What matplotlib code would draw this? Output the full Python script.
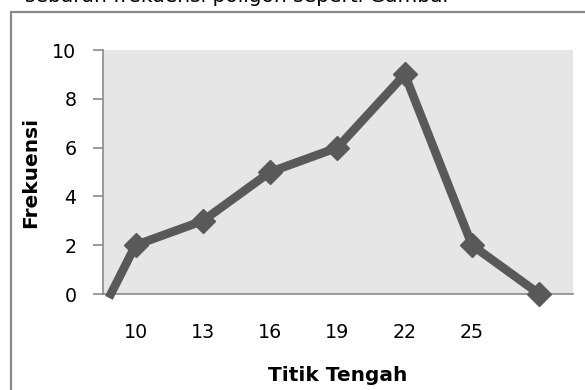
import matplotlib
matplotlib.use("Agg")
import matplotlib.pyplot as plt
from matplotlib.patches import Rectangle

# data
midpoints = [8.9, 10, 13, 16, 19, 22, 25, 28]
frequencies = [0, 2, 3, 5, 6, 9, 2, 0]
x_tick_labels = [10, 13, 16, 19, 22, 25]
y_ticks = [0, 2, 4, 6, 8, 10]

plt.rcParams['font.family'] = ['DejaVu Sans']

W, H = 585, 390
fig = plt.figure(figsize=(W / 100, H / 100), dpi=100)

# clipped caption text at the very top
fig.text(25 / W, 1 - 2.5 / H, "sebaran frekuensi poligon seperti Gambar",
         fontsize=14.5, color='black', ha='left', va='baseline')

# outer chart frame
fig.patches.append(Rectangle((11 / W, -0.05), 1.2, (1 - 12 / H) + 0.05,
                             transform=fig.transFigure, fill=False,
                             edgecolor='#8a8a8a', linewidth=1.6))

left, right, top, bottom = 103, 573, 50, 294
ax = fig.add_axes([left / W, 1 - bottom / H, (right - left) / W, (bottom - top) / H])
ax.set_facecolor('#e6e6e6')

ax.plot(midpoints, frequencies, color='#595959', linewidth=6.2,
        marker='D', markersize=12.5, markevery=list(range(1, len(midpoints))),
        solid_joinstyle='miter', clip_on=False, zorder=3)

ax.set_xlim(8.55, 29.5)
ax.set_ylim(0, 10)
ax.set_xticks(x_tick_labels)
ax.set_xticklabels([str(v) for v in x_tick_labels])
ax.set_yticks(y_ticks)

for s in ['top', 'right']:
    ax.spines[s].set_visible(False)
for s in ['left', 'bottom']:
    ax.spines[s].set_color('#8a8a8a')
    ax.spines[s].set_linewidth(1.2)

ax.tick_params(axis='y', direction='out', length=7, width=1.2, color='#8a8a8a',
               labelsize=13.7, pad=12)
ax.tick_params(axis='x', length=0, labelsize=13.7, pad=21)

ax.set_ylabel("Frekuensi", fontsize=14.5, fontweight='bold', labelpad=9)
ax.set_xlabel("Titik Tengah", fontsize=14.5, fontweight='bold', labelpad=17)

fig.savefig("out.png", dpi=100)
